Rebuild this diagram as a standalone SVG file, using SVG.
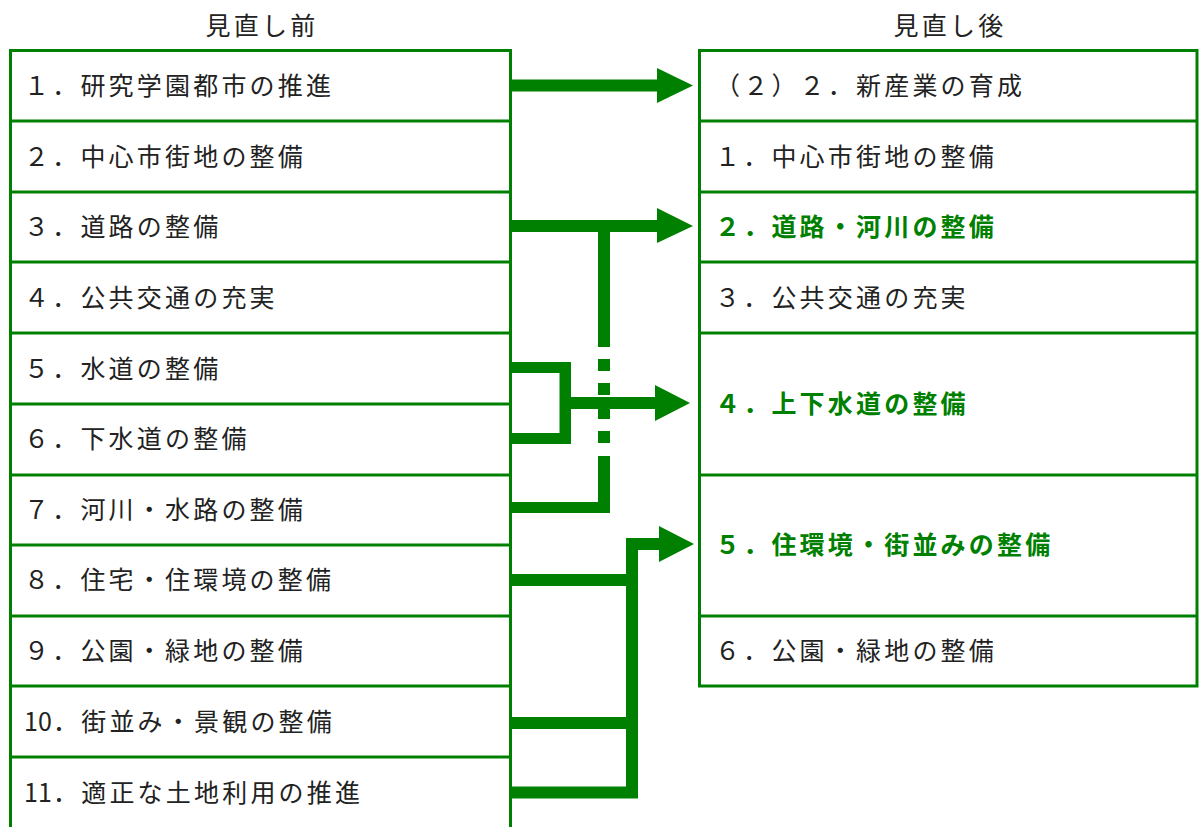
<svg xmlns="http://www.w3.org/2000/svg" width="1200" height="827" viewBox="0 0 1200 827">
<style>
.t{font-family:"Noto Sans CJK JP","Noto Sans CJK SC",sans-serif;font-size:25px;letter-spacing:3.2px;fill:#222}
.b{font-family:"Noto Sans CJK JP","Noto Sans CJK SC",sans-serif;font-size:25px;letter-spacing:3.2px;font-weight:bold;fill:#008000}
.ttl{font-family:"Noto Sans CJK JP","Noto Sans CJK SC",sans-serif;font-size:25px;letter-spacing:3.2px;fill:#222;text-anchor:middle}
.bd{stroke:#008000;stroke-width:3;fill:none}
.c{fill:#008000}
</style>
<rect width="1200" height="827" fill="#fff"/>
<text class="ttl" x="262" y="35">見直し前</text>
<text class="ttl" x="950" y="35">見直し後</text>

<g id="before">
<path class="bd" d="M10.5,827V50.5H510.5V827"/>
<g id="b1"><text class="t" x="24" y="95">１．研究学園都市の推進</text></g>
<g id="b2"><line class="bd" x1="10" y1="121" x2="511" y2="121"/><text class="t" x="24" y="166">２．中心市街地の整備</text></g>
<g id="b3"><line class="bd" x1="10" y1="192" x2="511" y2="192"/><text class="t" x="24" y="236">３．道路の整備</text></g>
<g id="b4"><line class="bd" x1="10" y1="262" x2="511" y2="262"/><text class="t" x="24" y="307">４．公共交通の充実</text></g>
<g id="b5"><line class="bd" x1="10" y1="333" x2="511" y2="333"/><text class="t" x="24" y="378">５．水道の整備</text></g>
<g id="b6"><line class="bd" x1="10" y1="404" x2="511" y2="404"/><text class="t" x="24" y="448">６．下水道の整備</text></g>
<g id="b7"><line class="bd" x1="10" y1="475" x2="511" y2="475"/><text class="t" x="24" y="519">７．河川・水路の整備</text></g>
<g id="b8"><line class="bd" x1="10" y1="545" x2="511" y2="545"/><text class="t" x="24" y="589">８．住宅・住環境の整備</text></g>
<g id="b9"><line class="bd" x1="10" y1="616" x2="511" y2="616"/><text class="t" x="24" y="660">９．公園・緑地の整備</text></g>
<g id="b10"><line class="bd" x1="10" y1="686" x2="511" y2="686"/><text class="t" x="24" y="731"><tspan letter-spacing="0">10</tspan><tspan x="53">．街並み・景観の整備</tspan></text></g>
<g id="b11"><line class="bd" x1="10" y1="757" x2="511" y2="757"/><text class="t" x="24" y="802"><tspan letter-spacing="0">11</tspan><tspan x="53">．適正な土地利用の推進</tspan></text></g>
</g>

<g id="after">
<rect class="bd" x="699.5" y="50.5" width="497.5" height="635.5"/>
<g id="a1"><text class="t" x="715" y="95">（２）２．新産業の育成</text></g>
<g id="a2"><line class="bd" x1="699" y1="121" x2="1198" y2="121"/><text class="t" x="715" y="166">１．中心市街地の整備</text></g>
<g id="a3"><line class="bd" x1="699" y1="192" x2="1198" y2="192"/><text class="b" x="715" y="236">２．道路・河川の整備</text></g>
<g id="a4"><line class="bd" x1="699" y1="262" x2="1198" y2="262"/><text class="t" x="715" y="307">３．公共交通の充実</text></g>
<g id="a5"><line class="bd" x1="699" y1="333" x2="1198" y2="333"/><text class="b" x="715" y="413">４．上下水道の整備</text></g>
<g id="a6"><line class="bd" x1="699" y1="475" x2="1198" y2="475"/><text class="b" x="715" y="554">５．住環境・街並みの整備</text></g>
<g id="a7"><line class="bd" x1="699" y1="616" x2="1198" y2="616"/><text class="t" x="715" y="660">６．公園・緑地の整備</text></g>
</g>

<g id="connectors">
<rect class="c" x="512" y="79.5" width="147" height="12"/>
<polygon class="c" points="657,68 693,85.5 657,103"/>

<rect class="c" x="512" y="220" width="147" height="12"/>
<polygon class="c" points="657,208 693,226 657,243"/>
<rect class="c" x="598" y="226" width="12" height="121"/>
<rect class="c" x="598" y="359" width="12" height="12"/>
<rect class="c" x="598" y="383" width="12" height="12"/>
<rect class="c" x="598" y="407" width="12" height="12"/>
<rect class="c" x="598" y="431" width="12" height="12"/>
<rect class="c" x="598" y="456" width="12" height="57"/>
<rect class="c" x="512" y="502" width="98" height="11"/>

<rect class="c" x="512" y="362" width="59" height="11"/>
<rect class="c" x="559.5" y="362" width="11.5" height="82"/>
<rect class="c" x="512" y="433" width="59" height="11"/>
<rect class="c" x="571" y="397" width="86" height="12"/>
<polygon class="c" points="655,385 690,403 655,421"/>

<rect class="c" x="626" y="538" width="12" height="260"/>
<rect class="c" x="626" y="538" width="35" height="12"/>
<polygon class="c" points="659,526 694,544 659,562"/>
<rect class="c" x="512" y="574" width="126" height="12"/>
<rect class="c" x="512" y="717" width="126" height="12"/>
<rect class="c" x="512" y="786.5" width="126" height="12"/>
</g>
</svg>
